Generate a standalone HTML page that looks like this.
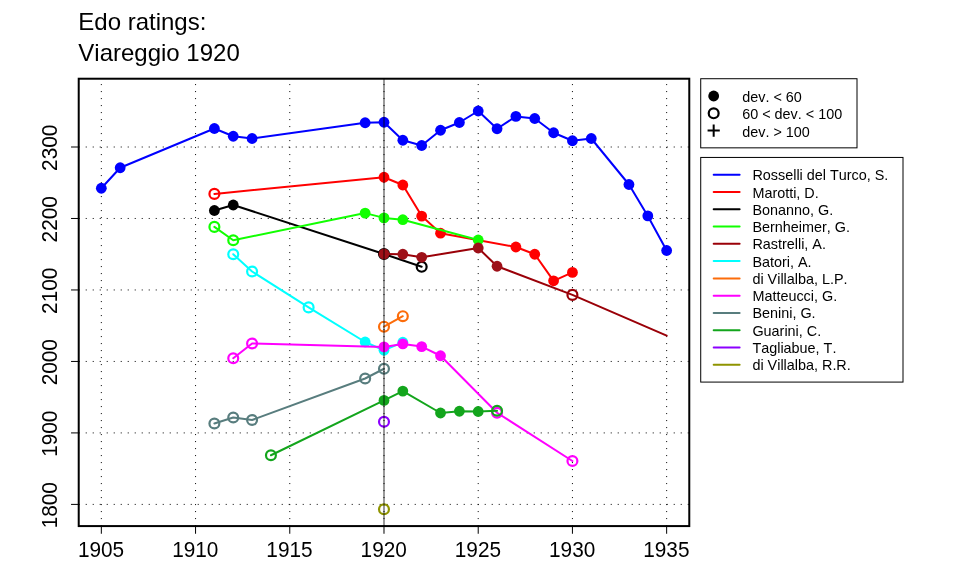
<!DOCTYPE html>
<html lang="en"><head><meta charset="utf-8"><title>Edo ratings: Viareggio 1920</title>
<style>html,body{margin:0;padding:0;background:#fff;}body{width:960px;height:576px;overflow:hidden;}svg{display:block;will-change:transform;}text{font-family:"Liberation Sans", sans-serif;fill:#000;font-kerning:none;}</style>
</head><body>
<svg width="960" height="576" viewBox="0 0 960 576">
<rect x="0" y="0" width="960" height="576" fill="#ffffff"/>
<text x="78.3" y="29.8" font-size="24">Edo ratings:</text>
<text x="78.3" y="60.8" font-size="24">Viareggio 1920</text>
<g stroke="#000" stroke-width="1" stroke-dasharray="1 6" fill="none">
<line x1="101.33" y1="526.08" x2="101.33" y2="78.72"/>
<line x1="195.55" y1="526.08" x2="195.55" y2="78.72"/>
<line x1="289.77" y1="526.08" x2="289.77" y2="78.72"/>
<line x1="383.99" y1="526.08" x2="383.99" y2="78.72"/>
<line x1="478.21" y1="526.08" x2="478.21" y2="78.72"/>
<line x1="572.43" y1="526.08" x2="572.43" y2="78.72"/>
<line x1="666.65" y1="526.08" x2="666.65" y2="78.72"/>
<line x1="78.72" y1="147.00" x2="689.28" y2="147.00"/>
<line x1="78.72" y1="218.48" x2="689.28" y2="218.48"/>
<line x1="78.72" y1="289.96" x2="689.28" y2="289.96"/>
<line x1="78.72" y1="361.44" x2="689.28" y2="361.44"/>
<line x1="78.72" y1="432.92" x2="689.28" y2="432.92"/>
<line x1="78.72" y1="504.40" x2="689.28" y2="504.40"/>
</g>
<polyline points="101.33,188.25 120.17,167.75 214.39,128.50 233.24,136.25 252.08,138.50 365.15,122.75 383.99,122.25 402.83,140.25 421.68,145.50 440.52,130.25 459.37,122.50 478.21,111.00 497.05,128.75 515.90,116.40 534.74,118.50 553.59,132.75 572.43,140.75 591.27,138.50 628.96,184.50 647.81,215.90 666.65,250.50" fill="none" stroke="#0000ff" stroke-width="2" stroke-linecap="round" stroke-linejoin="round"/>
<circle cx="101.33" cy="188.25" r="5.4" fill="#0000ff"/>
<circle cx="120.17" cy="167.75" r="5.4" fill="#0000ff"/>
<circle cx="214.39" cy="128.50" r="5.4" fill="#0000ff"/>
<circle cx="233.24" cy="136.25" r="5.4" fill="#0000ff"/>
<circle cx="252.08" cy="138.50" r="5.4" fill="#0000ff"/>
<circle cx="365.15" cy="122.75" r="5.4" fill="#0000ff"/>
<circle cx="383.99" cy="122.25" r="5.4" fill="#0000ff"/>
<circle cx="402.83" cy="140.25" r="5.4" fill="#0000ff"/>
<circle cx="421.68" cy="145.50" r="5.4" fill="#0000ff"/>
<circle cx="440.52" cy="130.25" r="5.4" fill="#0000ff"/>
<circle cx="459.37" cy="122.50" r="5.4" fill="#0000ff"/>
<circle cx="478.21" cy="111.00" r="5.4" fill="#0000ff"/>
<circle cx="497.05" cy="128.75" r="5.4" fill="#0000ff"/>
<circle cx="515.90" cy="116.40" r="5.4" fill="#0000ff"/>
<circle cx="534.74" cy="118.50" r="5.4" fill="#0000ff"/>
<circle cx="553.59" cy="132.75" r="5.4" fill="#0000ff"/>
<circle cx="572.43" cy="140.75" r="5.4" fill="#0000ff"/>
<circle cx="591.27" cy="138.50" r="5.4" fill="#0000ff"/>
<circle cx="628.96" cy="184.50" r="5.4" fill="#0000ff"/>
<circle cx="647.81" cy="215.90" r="5.4" fill="#0000ff"/>
<circle cx="666.65" cy="250.50" r="5.4" fill="#0000ff"/>
<polyline points="214.39,193.90 383.99,177.25 402.83,185.00 421.68,216.10 440.52,233.20 515.90,247.00 534.74,254.25 553.59,280.80 572.43,272.40" fill="none" stroke="#ff0000" stroke-width="2" stroke-linecap="round" stroke-linejoin="round"/>
<circle cx="214.39" cy="193.90" r="4.95" fill="none" stroke="#ff0000" stroke-width="2.2"/>
<circle cx="383.99" cy="177.25" r="5.4" fill="#ff0000"/>
<circle cx="402.83" cy="185.00" r="5.4" fill="#ff0000"/>
<circle cx="421.68" cy="216.10" r="5.4" fill="#ff0000"/>
<circle cx="440.52" cy="233.20" r="5.4" fill="#ff0000"/>
<circle cx="515.90" cy="247.00" r="5.4" fill="#ff0000"/>
<circle cx="534.74" cy="254.25" r="5.4" fill="#ff0000"/>
<circle cx="553.59" cy="280.80" r="5.4" fill="#ff0000"/>
<circle cx="572.43" cy="272.40" r="5.4" fill="#ff0000"/>
<polyline points="214.39,210.50 233.24,205.00 383.99,254.00 421.68,266.80" fill="none" stroke="#000000" stroke-width="2" stroke-linecap="round" stroke-linejoin="round"/>
<circle cx="214.39" cy="210.50" r="5.4" fill="#000000"/>
<circle cx="233.24" cy="205.00" r="5.4" fill="#000000"/>
<circle cx="383.99" cy="254.00" r="4.95" fill="none" stroke="#000000" stroke-width="2.2"/>
<circle cx="421.68" cy="266.80" r="4.95" fill="none" stroke="#000000" stroke-width="2.2"/>
<polyline points="214.39,226.90 233.24,240.25 365.15,213.10 383.99,217.90 402.83,219.70 478.21,240.00" fill="none" stroke="#11ff00" stroke-width="2" stroke-linecap="round" stroke-linejoin="round"/>
<circle cx="214.39" cy="226.90" r="4.95" fill="none" stroke="#11ff00" stroke-width="2.2"/>
<circle cx="233.24" cy="240.25" r="4.95" fill="none" stroke="#11ff00" stroke-width="2.2"/>
<circle cx="365.15" cy="213.10" r="5.4" fill="#11ff00"/>
<circle cx="383.99" cy="217.90" r="5.4" fill="#11ff00"/>
<circle cx="402.83" cy="219.70" r="5.4" fill="#11ff00"/>
<circle cx="478.21" cy="240.00" r="5.4" fill="#11ff00"/>
<polyline points="383.99,254.00 402.83,254.25 421.68,257.30 478.21,248.00 497.05,266.25 572.43,294.90 666.65,335.70" fill="none" stroke="#9a0008" stroke-width="2" stroke-linecap="round" stroke-linejoin="round"/>
<circle cx="383.99" cy="254.00" r="5.4" fill="#9e1018"/>
<circle cx="402.83" cy="254.25" r="5.4" fill="#9e1018"/>
<circle cx="421.68" cy="257.30" r="5.4" fill="#9e1018"/>
<circle cx="478.21" cy="248.00" r="5.4" fill="#9e1018"/>
<circle cx="497.05" cy="266.25" r="5.4" fill="#9e1018"/>
<circle cx="572.43" cy="294.90" r="4.95" fill="none" stroke="#9a0008" stroke-width="2.2"/>
<polyline points="233.24,254.25 252.08,271.50 308.61,307.40 365.15,342.00 383.99,350.30 402.83,342.20" fill="none" stroke="#00ffff" stroke-width="2" stroke-linecap="round" stroke-linejoin="round"/>
<circle cx="233.24" cy="254.25" r="4.95" fill="none" stroke="#00ffff" stroke-width="2.2"/>
<circle cx="252.08" cy="271.50" r="4.95" fill="none" stroke="#00ffff" stroke-width="2.2"/>
<circle cx="308.61" cy="307.40" r="4.95" fill="none" stroke="#00ffff" stroke-width="2.2"/>
<circle cx="365.15" cy="342.00" r="5.4" fill="#00ffff"/>
<circle cx="383.99" cy="350.30" r="5.4" fill="#00ffff"/>
<circle cx="402.83" cy="342.20" r="5.4" fill="#00ffff"/>
<polyline points="383.99,326.70 402.83,316.20" fill="none" stroke="#fc6c0a" stroke-width="2" stroke-linecap="round" stroke-linejoin="round"/>
<circle cx="383.99" cy="326.70" r="4.95" fill="none" stroke="#fc6c0a" stroke-width="2.2"/>
<circle cx="402.83" cy="316.20" r="4.95" fill="none" stroke="#fc6c0a" stroke-width="2.2"/>
<polyline points="233.24,358.25 252.08,343.50 383.99,346.90 402.83,343.90 421.68,346.60 440.52,355.75 497.05,412.75 572.43,461.00" fill="none" stroke="#ff00ff" stroke-width="2" stroke-linecap="round" stroke-linejoin="round"/>
<circle cx="233.24" cy="358.25" r="4.95" fill="none" stroke="#ff00ff" stroke-width="2.2"/>
<circle cx="252.08" cy="343.50" r="4.95" fill="none" stroke="#ff00ff" stroke-width="2.2"/>
<circle cx="383.99" cy="346.90" r="5.4" fill="#ff00ff"/>
<circle cx="402.83" cy="343.90" r="5.4" fill="#ff00ff"/>
<circle cx="421.68" cy="346.60" r="5.4" fill="#ff00ff"/>
<circle cx="440.52" cy="355.75" r="5.4" fill="#ff00ff"/>
<circle cx="497.05" cy="412.75" r="4.95" fill="none" stroke="#ff00ff" stroke-width="2.2"/>
<circle cx="572.43" cy="461.00" r="4.95" fill="none" stroke="#ff00ff" stroke-width="2.2"/>
<polyline points="214.39,423.50 233.24,417.50 252.08,420.00 365.15,378.50 383.99,368.75" fill="none" stroke="#587d7e" stroke-width="2" stroke-linecap="round" stroke-linejoin="round"/>
<circle cx="214.39" cy="423.50" r="4.95" fill="none" stroke="#587d7e" stroke-width="2.2"/>
<circle cx="233.24" cy="417.50" r="4.95" fill="none" stroke="#587d7e" stroke-width="2.2"/>
<circle cx="252.08" cy="420.00" r="4.95" fill="none" stroke="#587d7e" stroke-width="2.2"/>
<circle cx="365.15" cy="378.50" r="4.95" fill="none" stroke="#587d7e" stroke-width="2.2"/>
<circle cx="383.99" cy="368.75" r="4.95" fill="none" stroke="#587d7e" stroke-width="2.2"/>
<polyline points="270.93,455.25 383.99,400.40 402.83,391.10 440.52,413.00 459.37,411.25 478.21,411.50 497.05,410.75" fill="none" stroke="#13a51c" stroke-width="2" stroke-linecap="round" stroke-linejoin="round"/>
<circle cx="270.93" cy="455.25" r="4.95" fill="none" stroke="#13a51c" stroke-width="2.2"/>
<circle cx="383.99" cy="400.40" r="5.4" fill="#13a51c"/>
<circle cx="402.83" cy="391.10" r="5.4" fill="#13a51c"/>
<circle cx="440.52" cy="413.00" r="5.4" fill="#13a51c"/>
<circle cx="459.37" cy="411.25" r="5.4" fill="#13a51c"/>
<circle cx="478.21" cy="411.50" r="5.4" fill="#13a51c"/>
<circle cx="497.05" cy="410.75" r="4.95" fill="none" stroke="#13a51c" stroke-width="2.2"/>
<circle cx="383.99" cy="421.75" r="4.95" fill="none" stroke="#8c00ff" stroke-width="2.2"/>
<circle cx="383.99" cy="509.30" r="4.95" fill="none" stroke="#8f9400" stroke-width="2.2"/>
<line x1="383.99" y1="78.72" x2="383.99" y2="526.08" stroke="#000" stroke-opacity="0.4" stroke-width="2"/>
<rect x="78.72" y="78.72" width="610.56" height="447.36" fill="none" stroke="#000" stroke-width="2"/>
<g stroke="#000" stroke-width="1">
<line x1="101.33" y1="526.08" x2="101.33" y2="533.76"/>
<line x1="195.55" y1="526.08" x2="195.55" y2="533.76"/>
<line x1="289.77" y1="526.08" x2="289.77" y2="533.76"/>
<line x1="383.99" y1="526.08" x2="383.99" y2="533.76"/>
<line x1="478.21" y1="526.08" x2="478.21" y2="533.76"/>
<line x1="572.43" y1="526.08" x2="572.43" y2="533.76"/>
<line x1="666.65" y1="526.08" x2="666.65" y2="533.76"/>
<line x1="78.72" y1="147.00" x2="71.04" y2="147.00"/>
<line x1="78.72" y1="218.48" x2="71.04" y2="218.48"/>
<line x1="78.72" y1="289.96" x2="71.04" y2="289.96"/>
<line x1="78.72" y1="361.44" x2="71.04" y2="361.44"/>
<line x1="78.72" y1="432.92" x2="71.04" y2="432.92"/>
<line x1="78.72" y1="504.40" x2="71.04" y2="504.40"/>
</g>
<text transform="translate(101.03,556.7) scale(1,1.05)" font-size="20.8" text-anchor="middle">1905</text>
<text transform="translate(195.25,556.7) scale(1,1.05)" font-size="20.8" text-anchor="middle">1910</text>
<text transform="translate(289.47,556.7) scale(1,1.05)" font-size="20.8" text-anchor="middle">1915</text>
<text transform="translate(383.69,556.7) scale(1,1.05)" font-size="20.8" text-anchor="middle">1920</text>
<text transform="translate(477.91,556.7) scale(1,1.05)" font-size="20.8" text-anchor="middle">1925</text>
<text transform="translate(572.13,556.7) scale(1,1.05)" font-size="20.8" text-anchor="middle">1930</text>
<text transform="translate(666.35,556.7) scale(1,1.05)" font-size="20.8" text-anchor="middle">1935</text>
<text transform="translate(57,147.80) rotate(-90) scale(1,1.09)" font-size="20.8" text-anchor="middle">2300</text>
<text transform="translate(57,219.28) rotate(-90) scale(1,1.09)" font-size="20.8" text-anchor="middle">2200</text>
<text transform="translate(57,290.76) rotate(-90) scale(1,1.09)" font-size="20.8" text-anchor="middle">2100</text>
<text transform="translate(57,362.24) rotate(-90) scale(1,1.09)" font-size="20.8" text-anchor="middle">2000</text>
<text transform="translate(57,433.72) rotate(-90) scale(1,1.09)" font-size="20.8" text-anchor="middle">1900</text>
<text transform="translate(57,505.20) rotate(-90) scale(1,1.09)" font-size="20.8" text-anchor="middle">1800</text>
<rect x="700.72" y="78.72" width="156.28" height="69.12" fill="#fff" stroke="#000" stroke-width="1"/>
<circle cx="713.68" cy="96" r="5.4" fill="#000"/>
<circle cx="713.68" cy="113.28" r="4.95" fill="none" stroke="#000" stroke-width="2.2"/>
<path d="M707.58 130.56H719.78M713.68 124.46V136.66" stroke="#000" stroke-width="2" fill="none"/>
<text x="742.2" y="102.15" font-size="14.4">dev. &lt; 60</text>
<text x="742.2" y="119.43" font-size="14.4">60 &lt; dev. &lt; 100</text>
<text x="742.2" y="136.71" font-size="14.4">dev. &gt; 100</text>
<rect x="700.72" y="157.44" width="202.28" height="224.64" fill="#fff" stroke="#000" stroke-width="1"/>
<line x1="713.68" y1="174.72" x2="739.6" y2="174.72" stroke="#0000ff" stroke-width="2" stroke-linecap="round"/>
<text x="752.4" y="180.22" font-size="14.4">Rosselli del Turco, S.</text>
<line x1="713.68" y1="192.00" x2="739.6" y2="192.00" stroke="#ff0000" stroke-width="2" stroke-linecap="round"/>
<text x="752.4" y="197.50" font-size="14.4">Marotti, D.</text>
<line x1="713.68" y1="209.28" x2="739.6" y2="209.28" stroke="#000000" stroke-width="2" stroke-linecap="round"/>
<text x="752.4" y="214.78" font-size="14.4">Bonanno, G.</text>
<line x1="713.68" y1="226.56" x2="739.6" y2="226.56" stroke="#11ff00" stroke-width="2" stroke-linecap="round"/>
<text x="752.4" y="232.06" font-size="14.4">Bernheimer, G.</text>
<line x1="713.68" y1="243.84" x2="739.6" y2="243.84" stroke="#9a0008" stroke-width="2" stroke-linecap="round"/>
<text x="752.4" y="249.34" font-size="14.4">Rastrelli, A.</text>
<line x1="713.68" y1="261.12" x2="739.6" y2="261.12" stroke="#00ffff" stroke-width="2" stroke-linecap="round"/>
<text x="752.4" y="266.62" font-size="14.4">Batori, A.</text>
<line x1="713.68" y1="278.40" x2="739.6" y2="278.40" stroke="#fc6c0a" stroke-width="2" stroke-linecap="round"/>
<text x="752.4" y="283.90" font-size="14.4">di Villalba, L.P.</text>
<line x1="713.68" y1="295.68" x2="739.6" y2="295.68" stroke="#ff00ff" stroke-width="2" stroke-linecap="round"/>
<text x="752.4" y="301.18" font-size="14.4">Matteucci, G.</text>
<line x1="713.68" y1="312.96" x2="739.6" y2="312.96" stroke="#587d7e" stroke-width="2" stroke-linecap="round"/>
<text x="752.4" y="318.46" font-size="14.4">Benini, G.</text>
<line x1="713.68" y1="330.24" x2="739.6" y2="330.24" stroke="#13a51c" stroke-width="2" stroke-linecap="round"/>
<text x="752.4" y="335.74" font-size="14.4">Guarini, C.</text>
<line x1="713.68" y1="347.52" x2="739.6" y2="347.52" stroke="#8c00ff" stroke-width="2" stroke-linecap="round"/>
<text x="752.4" y="353.02" font-size="14.4">Tagliabue, T.</text>
<line x1="713.68" y1="364.80" x2="739.6" y2="364.80" stroke="#8f9400" stroke-width="2" stroke-linecap="round"/>
<text x="752.4" y="370.30" font-size="14.4">di Villalba, R.R.</text>
</svg>
</body></html>
